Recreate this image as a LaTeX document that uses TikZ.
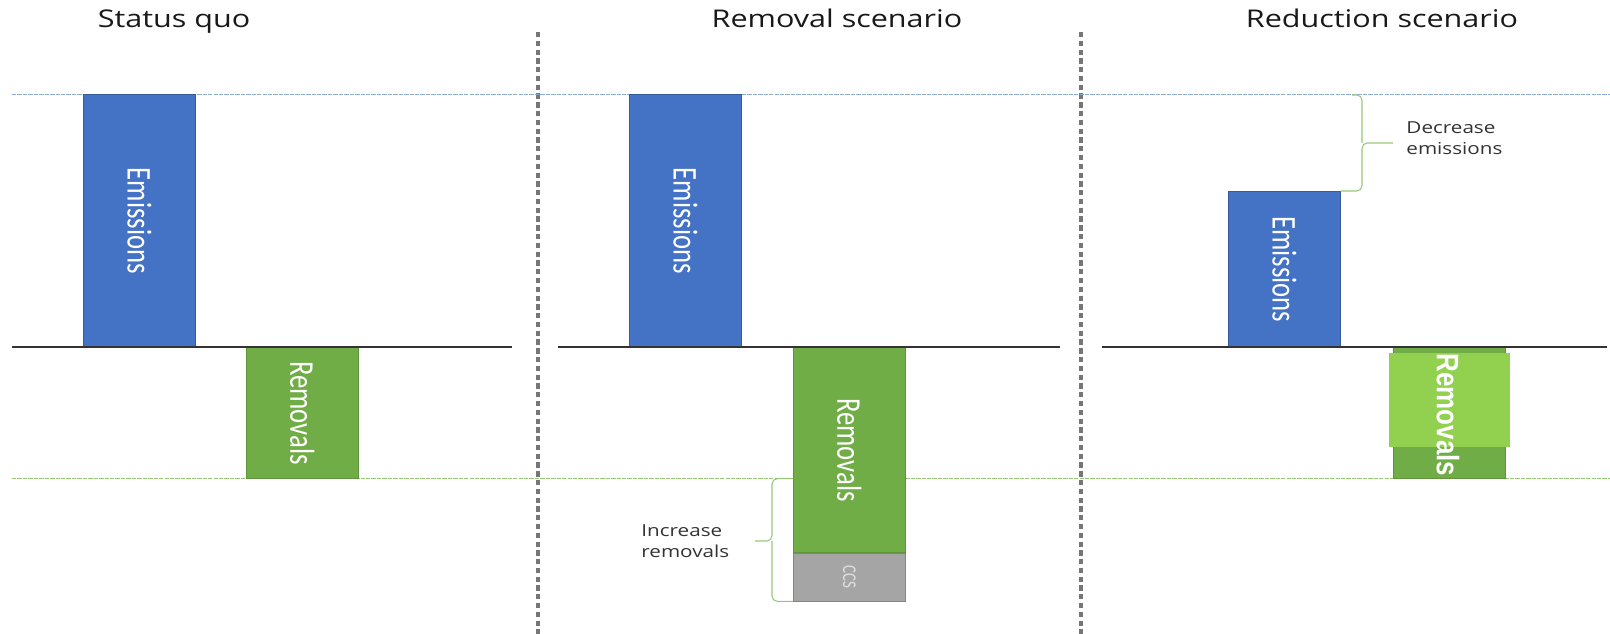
\documentclass[tikz,border=0pt]{standalone}
\usepackage{fontspec}
\setmainfont{Open Sans}
\newfontfamily\barfont{Carlito}
\newfontfamily\boldfont{Liberation Sans}
\usetikzlibrary{positioning}
\definecolor{emisblue}{RGB}{68,114,196}
\definecolor{remgreen}{RGB}{112,173,71}
\definecolor{litegreen}{RGB}{146,208,80}
\definecolor{ccsgray}{RGB}{165,165,165}
\definecolor{sepgray}{RGB}{118,118,118}
\definecolor{topblue}{RGB}{143,170,220}
\definecolor{botgreen}{RGB}{150,200,120}
\tikzset{
  bar/.style={inner sep=0pt, minimum width=2.24cm, anchor=north west},
  emis/.style={bar, fill=emisblue, draw=emisblue!80!black, line width=0.4pt},
  remv/.style={bar, fill=remgreen, draw=remgreen!85!black, line width=0.4pt},
  ccs/.style={bar, fill=ccsgray, draw=ccsgray!80!black, line width=0.4pt},
  barlbl/.style={rotate=-90, yscale=1.3, text=white, inner sep=0pt,
    font=\barfont\fontsize{15.2}{18}\selectfont},
  title/.style={anchor=base, xscale=1.25, inner sep=0pt, text=black!90,
    font=\fontsize{13.9}{16}\selectfont},
  note/.style={align=left, xscale=1.25, inner sep=0pt, text=black!80,
    font=\fontsize{9.4}{11.8}\selectfont},
  sep/.style={draw=sepgray, line width=1.8pt, dash pattern=on 3pt off 2pt},
  axis/.style={draw=black!80, line width=1.3pt},
  guide/.style={line width=0.5pt, dash pattern=on 2.5pt off 0.6pt},
  brc/.style={draw=botgreen, line width=0.6pt, rounded corners=3pt}
}

\begin{document}
\begin{tikzpicture}[x=0.02cm, y=-0.02cm]
  \useasboundingbox (0,0) rectangle (1610,634);

  % titles
  \node[title] (tSq)  at (174,28)  {Status quo};
  \node[title] (tRem) at (837,28)  {Removal scenario};
  \node[title] (tRed) at (1382,28) {Reduction scenario};

  % separators
  \coordinate (s1top) at (538,32);  \coordinate (s1bot) at (538,634);
  \coordinate (s2top) at (1081,32); \coordinate (s2bot) at (1081,634);
  \draw[sep] (s1top) -- (s1bot);
  \draw[sep] (s2top) -- (s2bot);

  % reference levels
  \coordinate (hiL) at (12,94);  \coordinate (hiR) at (1610,94);
  \coordinate (loL) at (12,478); \coordinate (loR) at (1610,478);
  \draw[guide, draw=topblue] (hiL) -- (hiR);
  \draw[guide, draw=botgreen] (loL) -- (loR);

  % status quo
  \node[emis, minimum height=5.06cm] (sqE) at (83,94) {};
  \node[remv, minimum height=2.62cm] (sqR) at (246,347) {};
  \node[barlbl] at (sqE) {Emissions};
  \node[barlbl] at (sqR) {Removals};

  % removal scenario
  \node[emis, minimum height=5.06cm] (rsE) at (629,94) {};
  \node[remv, minimum height=4.1cm] (rsR) at (793,347) {};
  \node[ccs, minimum height=0.96cm, below=0pt of rsR] (rsC) {};
  \node[barlbl] at (rsE) {Emissions};
  \node[barlbl] at (rsR) {Removals};
  \node[barlbl, text=black!12, font=\barfont\fontsize{8.5}{10}\selectfont] at (rsC) {CCS};

  % reduction scenario
  \node[emis, minimum height=3.12cm] (rdE) at (1228,191) {};
  \node[remv, minimum height=2.62cm] (rdR) at (1393,347) {};
  \node[bar, fill=litegreen, minimum width=2.42cm, minimum height=1.88cm] (rdOv) at (1389,353) {};
  \node[barlbl] at (rdE) {Emissions};
  \node[barlbl, yscale=0.92, font=\boldfont\bfseries\fontsize{14.8}{18}\selectfont]
    at (1448,415) {Removals};

  % axes
  \coordinate (a1L) at (12,347);   \coordinate (a1R) at (512,347);
  \coordinate (a2L) at (558,347);  \coordinate (a2R) at (1060,347);
  \coordinate (a3L) at (1102,347); \coordinate (a3R) at (1607,347);
  \draw[axis] (a1L) -- (a1R);
  \draw[axis] (a2L) -- (a2R);
  \draw[axis] (a3L) -- (a3R);

  % braces
  \coordinate (decTop) at (1352,95);
  \coordinate (decMid) at (1362,143);
  \coordinate (decTip) at (1393,143);
  \draw[brc] (rdE.north east) -| (decMid) -- (decTip);
  \draw[brc] (decTop) -| (decMid);
  \node[note, anchor=west] (decLbl) at (1406,138) {Decrease\\emissions};

  \coordinate (incMid) at (772,541);
  \coordinate (incTip) at (755,541);
  \draw[brc] (rsR.west |- sqR.south) -| (incMid) -- (incTip);
  \draw[brc] (rsC.south west) -| (incMid);
  \node[note, anchor=west] (incLbl) at (641,541) {Increase\\removals};
\end{tikzpicture}
\end{document}
